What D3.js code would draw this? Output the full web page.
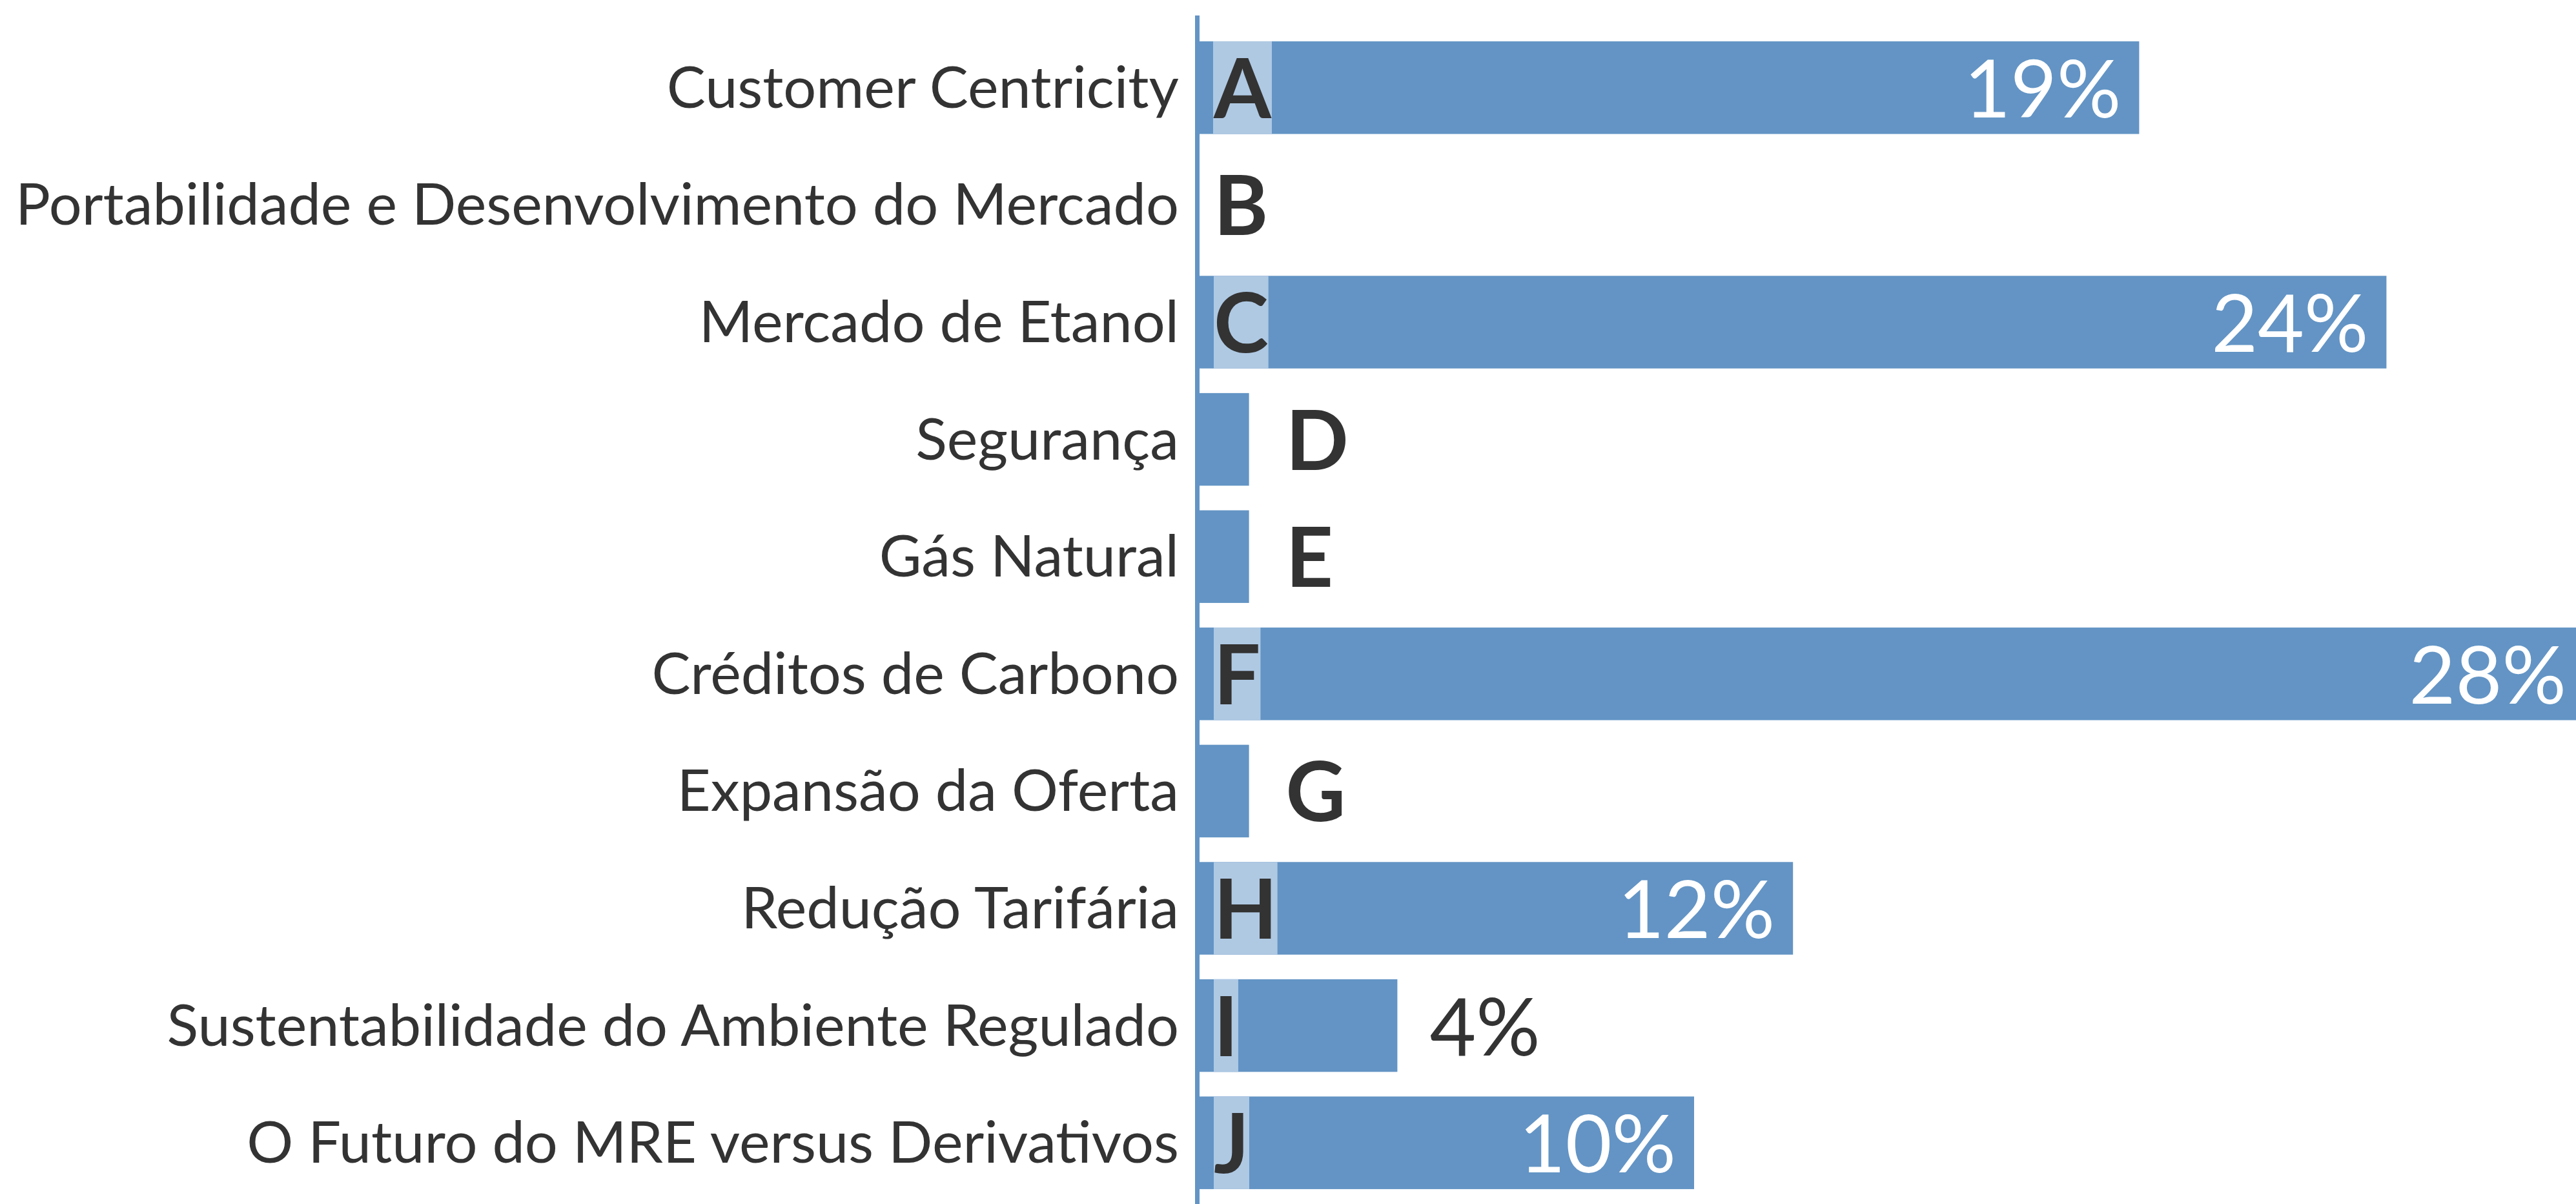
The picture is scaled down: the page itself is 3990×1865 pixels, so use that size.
<!DOCTYPE html>
<html><head><meta charset="utf-8">
<script src="https://cdn.jsdelivr.net/npm/d3@7/dist/d3.min.js"></script>
<style>
html,body{margin:0;padding:0;background:#fff;}
svg{display:block;}
</style></head>
<body>
<script>
const categories = ["Customer Centricity","Portabilidade e Desenvolvimento do Mercado","Mercado de Etanol","Segurança","Gás Natural","Créditos de Carbono","Expansão da Oferta","Redução Tarifária","Sustentabilidade do Ambiente Regulado","O Futuro do MRE versus Derivativos"];
const letters = ["A","B","C","D","E","F","G","H","I","J"];
const values = [19, 0, 24, 1, 1, 28, 1, 12, 4, 10];

const W = 3990, H = 1865;
const blue = "#6394c5", light = "#afc9e3", ink = "#333333";
const font = "Lato, 'Open Sans', sans-serif";

const svg = d3.select("body").append("svg").attr("width", W).attr("height", H);

const x0 = 1858;
const x = d3.scaleLinear().domain([0, 28]).range([x0, x0 + 28 * 76.6]);
const y = d3.scaleBand().domain(categories).range([45, 1861]).paddingInner(0.21).paddingOuter(0.105);

const data = categories.map((c, i) => ({c, l: letters[i], v: values[i]}));

const g = svg.append("g");
// bars
g.selectAll("rect.bar").data(data).enter().append("rect")
  .attr("class", "bar")
  .attr("x", x(0)).attr("y", d => y(d.c))
  .attr("width", d => x(d.v) - x(0)).attr("height", y.bandwidth())
  .attr("fill", blue);

// category labels
const yAxis = d3.axisLeft(y).tickSize(0).tickPadding(0);
const ax = svg.append("g").attr("transform", `translate(1826,0)`).call(yAxis);
ax.select(".domain").remove();
ax.selectAll("text").attr("font-family", font).attr("font-size", 90).attr("fill", ink)
  .attr("dy", null).attr("y", 31);

// axis line
svg.append("line").attr("x1", 1854.5).attr("x2", 1854.5).attr("y1", 24).attr("y2", H)
  .attr("stroke", blue).attr("stroke-width", 7);

// letters
const inside = d => x(d.v) - x(0) > 120;
data.forEach(d => {
  const cy = y(d.c) + y.bandwidth() / 2;
  let tx;
  if (inside(d) || d.v === 0) tx = x0 + 22; else tx = x(d.v) + 57;
  const t = g.append("text").attr("x", tx).attr("y", cy + 47)
    .attr("font-family", font).attr("font-weight", 700).attr("font-size", 128)
    .attr("fill", ink).text(d.l);
  if (inside(d)) {
    const bb = t.node().getBBox();
    g.insert("rect", "text").attr("x", bb.x).attr("y", y(d.c))
      .attr("width", bb.width).attr("height", y.bandwidth()).attr("fill", light);
  }
  // value labels
  if (d.v >= 4) {
    const lbl = d.v + "%";
    if (d.v >= 10) {
      g.append("text").attr("x", x(d.v) - 28).attr("y", cy + 46)
        .attr("text-anchor", "end").attr("font-family", font).attr("font-weight", 400)
        .attr("font-size", 124).attr("fill", "#fff").text(lbl);
    } else {
      g.append("text").attr("x", x(d.v) + 50).attr("y", cy + 46)
        .attr("font-family", font).attr("font-weight", 400)
        .attr("font-size", 124).attr("fill", ink).text(lbl);
    }
  }
});
</script>
</body></html>
